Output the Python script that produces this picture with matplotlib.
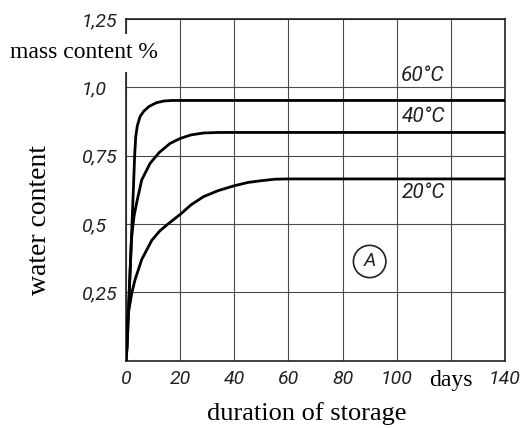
import matplotlib
matplotlib.use("Agg")
import matplotlib.pyplot as plt
from matplotlib.patches import Ellipse

# curves (days, mass content %)
days_60 = [0, 0.4, 1.2, 2.1, 2.7, 3.2, 3.6, 4.2, 5.2, 6.5, 8.5, 11.3, 14, 17, 140]
water_60 = [0, 0.05, 0.25, 0.47, 0.62, 0.75, 0.82, 0.86, 0.893, 0.912, 0.93, 0.944, 0.95, 0.952, 0.952]

days_40 = [0, 0.4, 1.2, 2.0, 2.5, 3.0, 3.9, 5.8, 8.9, 12.3, 16.3, 20, 24, 28.6, 34, 140]
water_40 = [0, 0.05, 0.25, 0.44, 0.49, 0.53, 0.576, 0.661, 0.722, 0.762, 0.795, 0.813, 0.826, 0.833, 0.835, 0.835]

days_20 = [0, 0.3, 0.8, 1.5, 2.2, 3.3, 5.8, 9.5, 12.5, 15.5, 20, 24, 28.6, 34, 40, 45, 49.5, 55, 60, 140]
water_20 = [0, 0.12, 0.17, 0.21, 0.25, 0.295, 0.37, 0.44, 0.475, 0.5, 0.535, 0.57, 0.6, 0.622, 0.64, 0.652, 0.658, 0.664, 0.665, 0.665]

curve_labels = ["60°C", "40°C", "20°C"]
label_pos = [(101.5, 1.045), (102.0, 0.892), (102.0, 0.615)]

x_ticks = [0, 20, 40, 60, 80, 100, 120, 140]
x_ticklabels = ["0", "20", "40", "60", "80", "100", "days", "140"]
y_ticks = [0, 0.25, 0.5, 0.75, 1.0, 1.25]
y_ticklabels = ["", "0,25", "0,5", "0,75", "1,0", "1,25"]

sans = "Roboto"
serif = "Liberation Serif"

fig = plt.figure(figsize=(5.23, 4.28), dpi=100)
ax = fig.add_axes([0.2409, 0.1572, 0.7247, 0.7984])

for d, w in [(days_60, water_60), (days_40, water_40), (days_20, water_20)]:
    ax.plot(d, w, color="black", lw=2.0, solid_capstyle="round", zorder=3)

ax.set_xlim(0, 140)
ax.set_ylim(0, 1.25)
ax.set_xticks(x_ticks)
ax.set_yticks(y_ticks)
ax.grid(True, color="#4a4a4a", lw=0.8)
ax.set_axisbelow(True)
for s in ax.spines.values():
    s.set_linewidth(1.2)
    s.set_color("#222222")

ax.set_xticklabels(x_ticklabels)
for lab in ax.get_xticklabels():
    if lab.get_text() == "days":
        lab.set_fontfamily(serif)
        lab.set_fontsize(17)
    else:
        lab.set_fontfamily(sans)
        lab.set_fontstyle("italic")
        lab.set_fontsize(14)
        lab.set_color("#222222")
ax.set_yticklabels(y_ticklabels, family=sans, style="italic", fontsize=14, color="#222222", ha="left")
ax.tick_params(axis="x", length=0, pad=7)
ax.tick_params(axis="y", length=0, pad=32)

for text, (x, y) in zip(curve_labels, label_pos):
    ax.text(x, y, text, family=sans, style="italic", fontsize=15, color="#222222", ha="left", va="center")

# circled A
ax.add_patch(Ellipse((90, 0.363), 12.0, 0.118, fill=False, lw=1.2, color="#222222"))
ax.text(90, 0.363, "A", family=sans, style="italic", fontsize=14, ha="center", va="center", color="#222222")

fig.text(10 / 523, 1 - 53 / 428, "mass content %", family=serif, fontsize=17, ha="left", va="center",
         bbox=dict(facecolor="white", edgecolor="none", pad=6))
fig.text(40 / 523, 1 - 220 / 428, "water content", family=serif, fontsize=20, rotation=90, ha="center", va="center")
fig.text(307 / 523, 1 - 414 / 428, "duration of storage", family=serif, fontsize=19, ha="center", va="center")

fig.savefig("out.png", dpi=100)
